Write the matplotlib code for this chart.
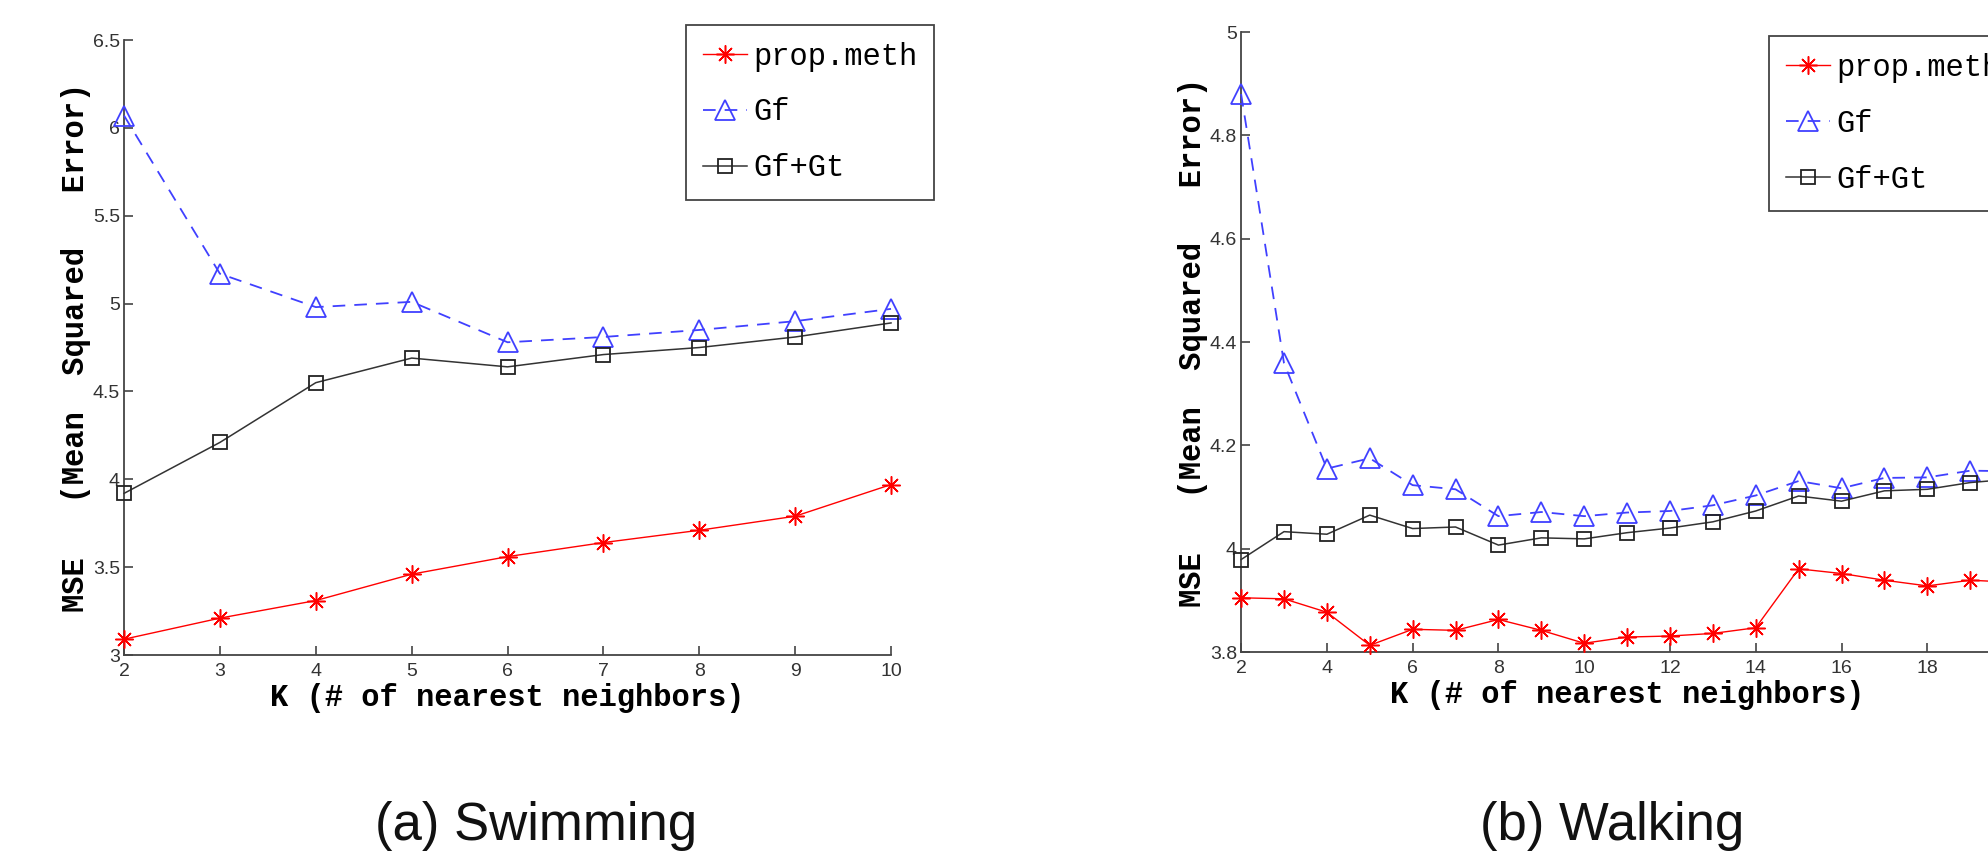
import matplotlib
matplotlib.use("Agg")
import matplotlib.pyplot as plt

mono = "Liberation Mono"
sans = "Liberation Sans"

# (a) Swimming
k_swim = [2, 3, 4, 5, 6, 7, 8, 9, 10]
prop_swim = [3.09, 3.21, 3.31, 3.46, 3.56, 3.64, 3.71, 3.79, 3.97]
gf_swim = [6.07, 5.17, 4.98, 5.01, 4.78, 4.81, 4.85, 4.90, 4.97]
gfgt_swim = [3.92, 4.21, 4.55, 4.69, 4.64, 4.71, 4.75, 4.81, 4.89]

# (b) Walking
k_walk = list(range(2, 21))
prop_walk = [3.905, 3.903, 3.877, 3.813, 3.844, 3.842, 3.863, 3.842, 3.817, 3.829,
             3.831, 3.836, 3.847, 3.961, 3.952, 3.939, 3.928, 3.939, 3.935]
gf_walk = [4.880, 4.359, 4.155, 4.175, 4.123, 4.115, 4.063, 4.071, 4.063, 4.070,
           4.073, 4.084, 4.103, 4.131, 4.117, 4.137, 4.138, 4.151, 4.150]
gfgt_walk = [3.979, 4.033, 4.028, 4.065, 4.039, 4.042, 4.007, 4.021, 4.019, 4.031,
             4.040, 4.052, 4.073, 4.102, 4.092, 4.112, 4.115, 4.128, 4.135]

labels = ["prop.meth", "Gf", "Gf+Gt"]
xlabel = "K (# of nearest neighbors)"
ylabel = "MSE   (Mean  Squared   Error)"

fig = plt.figure(figsize=(19.88, 8.52), dpi=100)


def draw(ax, k, prop, gf, gfgt, ylim, yticks, xticks):
    ax.plot(k, prop, color="red", lw=1.0, marker=(8, 2, 0), ms=13, mew=1.1,
            label=labels[0], clip_on=False, zorder=3)
    ax.plot(k, gf, color="#4040ff", lw=1.3, ls=(0, (7, 5)), marker="^", ms=15,
            mfc="none", mec="#4040ff", mew=1.3, label=labels[1], clip_on=False, zorder=3)
    ax.plot(k, gfgt, color="#333333", lw=1.1, marker="s", ms=10, mfc="none",
            mec="#222222", mew=1.3, label=labels[2], clip_on=False, zorder=3)

    ax.set_xlim(k[0], xticks[-1])
    ax.set_ylim(*ylim)
    ax.set_xticks(xticks)
    ax.set_yticks(yticks)
    ax.set_yticklabels([f"{v:g}" for v in yticks])

    for s in ["top", "right"]:
        ax.spines[s].set_visible(False)
    for s in ["left", "bottom"]:
        ax.spines[s].set_color("#444444")
        ax.spines[s].set_linewidth(1.3)

    ax.tick_params(direction="in", length=6.5, width=1.2, color="#444444",
                   labelcolor="#333333", labelsize=14)
    ax.tick_params(axis="y", pad=3)
    ax.tick_params(axis="x", pad=6)
    for t in ax.get_xticklabels() + ax.get_yticklabels():
        t.set_fontfamily(sans)

    ax.set_xlabel(xlabel, fontfamily=mono, fontweight="bold", fontsize=22)
    ax.set_ylabel(ylabel, fontfamily=mono, fontweight="bold", fontsize=22)
    ax.xaxis.set_label_coords(0.5, -0.045)
    ax.yaxis.set_label_coords(-0.043, 0.5)


ax1 = fig.add_axes([0.0624, 0.2312, 0.3858, 0.7218])
draw(ax1, k_swim, prop_swim, gf_swim, gfgt_swim, (3, 6.5),
     [3, 3.5, 4, 4.5, 5, 5.5, 6, 6.5], k_swim)

ax2 = fig.add_axes([0.6243, 0.2347, 0.3883, 0.7277])
draw(ax2, k_walk, prop_walk, gf_walk, gfgt_walk, (3.8, 5),
     [3.8, 4.0, 4.2, 4.4, 4.6, 4.8, 5.0], list(range(2, 21, 2)))

for ax, anchor in [(ax1, (0.345, 0.971)), (ax2, (0.890, 0.958))]:
    leg = ax.legend(loc="upper left", bbox_to_anchor=anchor,
                    bbox_transform=fig.transFigure,
                    prop={"family": mono, "size": 22},
                    handlelength=1.45, handletextpad=0.2, borderpad=0.55,
                    labelspacing=0.85, borderaxespad=0, fancybox=False,
                    framealpha=1)
    leg.get_frame().set_edgecolor("#444444")
    leg.get_frame().set_linewidth(1.3)

fig.text(536 / 1988, 1 - 840 / 852, "(a) Swimming", fontfamily=sans,
         fontsize=38, ha="center", va="baseline", color="#111111")
fig.text(1612 / 1988, 1 - 840 / 852, "(b) Walking", fontfamily=sans,
         fontsize=38, ha="center", va="baseline", color="#111111")

fig.savefig("out.png", dpi=100)
